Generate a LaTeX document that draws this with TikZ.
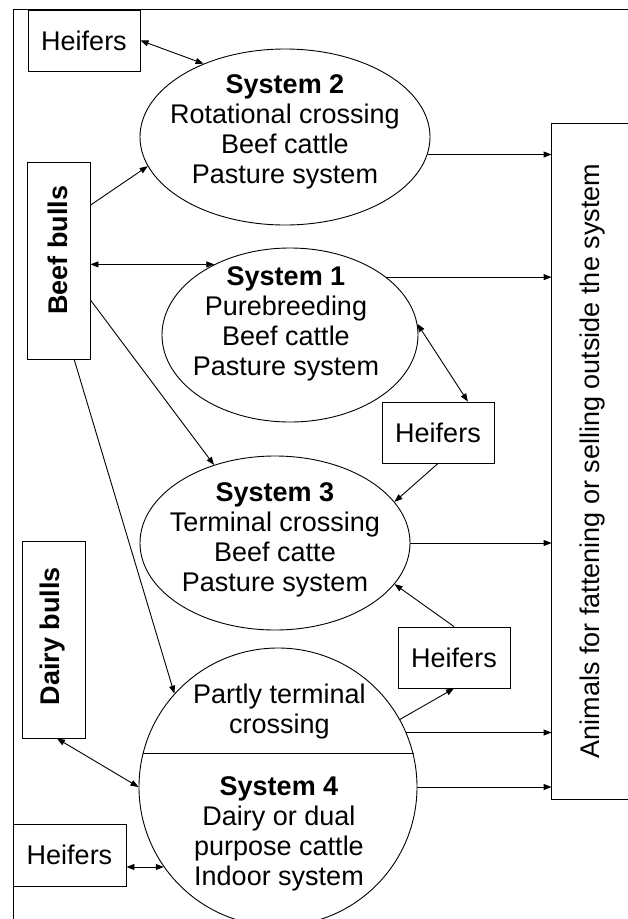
\documentclass[tikz,border=0pt]{standalone}
\usepackage{fontspec}
\setmainfont{Liberation Sans}
\usetikzlibrary{arrows.meta,shapes.geometric}
\begin{document}
\begin{tikzpicture}[x=1pt,y=-1pt,
  every node/.style={font=\fontsize{27}{30}\selectfont},
  line width=0.9pt,
  box/.style={draw, rectangle, inner sep=0pt, minimum width=112pt, minimum height=61pt},
  tallbox/.style={draw, rectangle, inner sep=0pt, minimum width=63pt, minimum height=197pt},
  ell/.style={draw, ellipse, inner sep=0pt},
  txt/.style={align=center, inner sep=0pt},
  arr/.style={-{Triangle[length=8pt,width=6pt]}},
  darr/.style={{Triangle[length=8pt,width=6pt]}-{Triangle[length=8pt,width=6pt]}},
]
\useasboundingbox (0,0) rectangle (628,919);
% outer frame (partly visible)
\draw (13,919) -- (13,9) -- (628,9);

% boxes
\node[box] (h1) at (84,40.5) {Heifers};
\node[box] (h2) at (438,432.5) {Heifers};
\node[box] (h3) at (454,657.5) {Heifers};
\node[box, minimum width=113pt, minimum height=62pt] (h4) at (69.5,855) {Heifers};
\node[tallbox] (bb) at (58.5,260.5) {};
\node[txt, rotate=90, font=\fontsize{27}{30}\selectfont\bfseries] (bbt) at (57.5,250) {Beef bulls};
\node[tallbox] (db) at (53.5,639.5) {};
\node[txt, rotate=90, font=\fontsize{27}{30}\selectfont\bfseries] (dbt) at (52.5,636) {Dairy bulls};

% output box (right side cut by the page edge)
\node[rectangle, inner sep=0pt, minimum width=76pt, minimum height=675pt] (out) at (590,461.5) {};
\draw (out.north east) -- (out.north west) -- (out.south west) -- (out.south east);
\node[txt, rotate=90] (outt) at (593,461) {Animals for fattening or selling outside the system};

% systems
\node[ell, minimum width=290pt, minimum height=176pt] (s2) at (285,137) {};
\node[txt] (s2t) at (285,132) {\textbf{System 2}\\Rotational crossing\\Beef cattle\\Pasture system};
\node[ell, minimum width=256pt, minimum height=174pt] (s1) at (290,335) {};
\node[txt] (s1t) at (286,324) {\textbf{System 1}\\Purebreeding\\Beef cattle\\Pasture system};
\node[ell, minimum width=270pt, minimum height=174pt] (s3) at (275,543) {};
\node[txt] (s3t) at (275,539.5) {\textbf{System 3}\\Terminal crossing\\Beef catte\\Pasture system};
\node[draw, circle, inner sep=0pt, minimum size=278pt] (s4) at (278,787) {};
\draw (s4.166.2) -- (s4.166.2 -| s4.13.8);
\node[txt] (s4a) at (279.5,712) {Partly terminal\\crossing};
\node[txt] (s4b) at (279,834) {\textbf{System 4}\\Dairy or dual\\purpose cattle\\Indoor system};

% connectors
\draw[darr] (h1.east) -- (s2.138);
\draw[arr] (bb.60) -- (s2.192.9);
\draw[darr] (bb.east |- s1.137) -- (s1.137);
\draw[arr] (bb.-51.4) -- (s3.128.5);
\draw[arr] (bb.-81.6) -- (s4.138.2);
\draw[darr] (s1.5.5) -- (h2.46.4);
\draw[arr] (h2.south) -- (s3.19.2);
\draw[arr] (h3.north) -- (s3.-19);
\draw[arr] (s4.29.1) -- (h3.south);
\draw[darr] (db.272) -- (s4.west);
\draw[darr] (h4.east |- s4.215.1) -- (s4.215.1);

\draw[arr] (s2.-7.2) -- (s2.-7.2 -| out.west);
\draw[arr] (s1.31.3) -- (s1.31.3 -| out.west);
\draw[arr] (s3.east) -- (s3.east -| out.west);
\draw[arr] (s4.23) -- (s4.23 -| out.west);
\draw[arr] (s4.east) -- (s4.east -| out.west);
\end{tikzpicture}
\end{document}
